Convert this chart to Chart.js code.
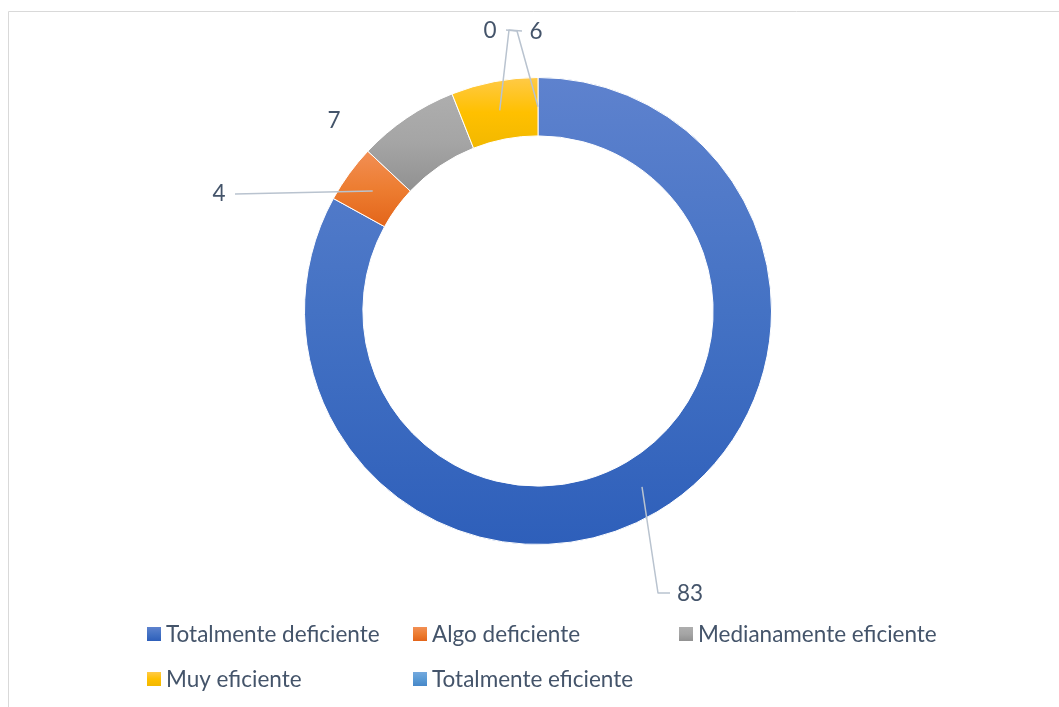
<!DOCTYPE html>
<html><head><meta charset="utf-8">
<script src="https://cdn.jsdelivr.net/npm/chart.js@4/dist/chart.umd.min.js"></script>
<style>html,body{margin:0;padding:0;background:#fff;overflow:hidden}#wrap{width:1059px;height:707px;position:relative}</style>
</head><body><div id="wrap"><canvas id="c" width="1059" height="707"></canvas></div>
<script>
// ---- data ----
const categories = ['Totalmente deficiente','Algo deficiente','Medianamente eficiente','Muy eficiente','Totalmente eficiente'];
const values = [83, 4, 7, 6, 0];
const valueLabels = ['83', '4', '7', '6', '0'];

// ---- styles ----
const gradientStops = [
  ['#5E82CE', '#4472C4', '#2E5FBA'],
  ['#F28F55', '#ED7D31', '#E3651A'],
  ['#AEAEAE', '#A5A5A5', '#919191'],
  ['#FFCA48', '#FFC000', '#F2B800'],
  ['#74A9DE', '#5B9BD5', '#4787C8']
];
const textColor = '#44546A';
const leaderColor = '#B9C3CF';
const fontFamily = 'Lato, "Open Sans", sans-serif';
const CUT = 0.75;

// label placement, px offsets from doughnut centre
const labelOffsets = [[152, 283], [-319, -117], [-204, -190], [-2, -279], [-48, -280]];
// leader bend points (from label side towards the slice), px offsets from centre; null = no leader
const leaderBends = [[[132, 282], [120, 282]], [[-303, -117]], null, [[-16, -280], [-29, -281]], [[-32, -281], [-21, -280]]];
// legend layout
const legendLayout = {left: 147, colWidth: 266, perRow: 3, firstRowY: 634, rowHeight: 45, box: 14, gap: 5};

function totalOf(){ return values.reduce((a, b) => a + b, 0); }

function makeGrad(ctx, y0, y1, stops){
  if (y1 - y0 < 1) y1 = y0 + 1;
  const g = ctx.createLinearGradient(0, y0, 0, y1);
  g.addColorStop(0, stops[0]); g.addColorStop(0.5, stops[1]); g.addColorStop(1, stops[2]);
  return g;
}

function sliceGradient(c){
  const chart = c.chart, i = c.dataIndex, area = chart.chartArea;
  if (!area || i === undefined) return gradientStops[i || 0][1];
  const cx = (area.left + area.right) / 2, cy = (area.top + area.bottom) / 2;
  const R = Math.min(area.width, area.height) / 2, r = R * CUT;
  const tot = totalOf();
  let cum = 0; for (let k = 0; k < i; k++) cum += values[k];
  const a0 = -Math.PI / 2 + cum / tot * 2 * Math.PI, a1 = a0 + values[i] / tot * 2 * Math.PI;
  let ymin = Infinity, ymax = -Infinity;
  for (let s = 0; s <= 90; s++) {
    const a = a0 + (a1 - a0) * s / 90;
    for (const rr of [r, R]) { const y = cy + rr * Math.sin(a); ymin = Math.min(ymin, y); ymax = Math.max(ymax, y); }
  }
  return makeGrad(chart.ctx, ymin, ymax, gradientStops[i]);
}

let fontSize = 20;
function fitFont(ctx){
  ctx.font = '20px ' + fontFamily;
  const w = ctx.measureText('Totalmente deficiente').width;
  fontSize = Math.round(20 * 214 / w * 10) / 10;
}

const decor = {
  id: 'decor',
  beforeDraw(chart){
    const ctx = chart.ctx;
    ctx.save();
    ctx.strokeStyle = '#D9D9D9'; ctx.lineWidth = 1;
    ctx.beginPath(); ctx.moveTo(8.5, chart.height); ctx.lineTo(8.5, 11.5); ctx.lineTo(chart.width, 11.5); ctx.stroke();
    ctx.restore();
  },
  afterDatasetsDraw(chart){
    const ctx = chart.ctx;
    fitFont(ctx);
    const meta = chart.getDatasetMeta(0);
    const area = chart.chartArea;
    const cx = (area.left + area.right) / 2, cy = (area.top + area.bottom) / 2;
    ctx.save();
    // leaders
    ctx.strokeStyle = leaderColor; ctx.lineWidth = 1.5; ctx.lineJoin = 'round';
    meta.data.forEach((el, i) => {
      const bends = leaderBends[i];
      if (!bends) return;
      const p = el.getProps(['x', 'y', 'startAngle', 'endAngle', 'innerRadius', 'outerRadius'], true);
      const ma = (p.startAngle + p.endAngle) / 2, mr = (p.innerRadius + p.outerRadius) / 2;
      ctx.beginPath();
      bends.forEach((b, k) => { const X = cx + b[0], Y = cy + b[1]; k ? ctx.lineTo(X, Y) : ctx.moveTo(X, Y); });
      ctx.lineTo(p.x + mr * Math.cos(ma), p.y + mr * Math.sin(ma));
      ctx.stroke();
    });
    // value labels
    ctx.fillStyle = textColor; ctx.font = fontSize + 'px ' + fontFamily;
    ctx.textAlign = 'center'; ctx.textBaseline = 'middle';
    valueLabels.forEach((t, i) => { ctx.fillText(t, cx + labelOffsets[i][0], cy + labelOffsets[i][1]); });
    // legend
    const L = legendLayout;
    ctx.textAlign = 'left';
    categories.forEach((name, i) => {
      const col = i % L.perRow, row = Math.floor(i / L.perRow);
      const x = L.left + col * L.colWidth, y = L.firstRowY + row * L.rowHeight;
      ctx.fillStyle = makeGrad(ctx, y - L.box / 2, y + L.box / 2, gradientStops[i]);
      ctx.fillRect(x, y - L.box / 2, L.box, L.box);
      ctx.fillStyle = textColor;
      ctx.fillText(name, x + L.box + L.gap, y + 1);
    });
    ctx.restore();
  }
};

new Chart(document.getElementById('c'), {
  type: 'doughnut',
  data: {
    labels: categories,
    datasets: [{
      data: values,
      backgroundColor: sliceGradient,
      borderColor: '#FFFFFF',
      borderWidth: 1,
      hoverOffset: 0
    }]
  },
  options: {
    responsive: false,
    animation: false,
    cutout: (CUT * 100) + '%',
    layout: {padding: {top: 77, bottom: 162, left: 17, right: 0}},
    plugins: {legend: {display: false}, tooltip: {enabled: false}},
    events: []
  },
  plugins: [decor]
});
</script>
</body></html>
